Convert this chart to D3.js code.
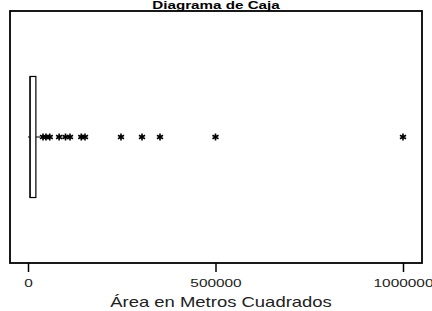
<!DOCTYPE html>
<html>
<head>
<meta charset="utf-8">
<script src="https://cdn.jsdelivr.net/npm/d3@7"></script>
<style>
  body { margin: 0; background: #fff; }
  text { font-family: Arial, "Liberation Sans", sans-serif; }
</style>
</head>
<body>
<svg id="chart" width="432" height="311"></svg>
<script>
// Box summary (m2)
var boxStats = { min: 0, q1: 5000, median: 6000, q3: 21000, max: 32000 };
// Outliers
var outliers = [40000, 48000, 58000, 83000, 100000, 112000, 142000, 152000,
  248000, 304000, 352000, 500000, 1000000];
var tickValues = [0, 500000, 1000000];

var width = 432, height = 311;
var frame = { left: 10, right: 422, top: 11, bottom: 263 };

var svg = d3.select("#chart");

// x scale for area
var x = d3.scaleLinear().domain([0, 1000000]).range([28, 403]);
// single category band
var y = d3.scaleBand().domain(["area"]).range([frame.top, frame.bottom]).padding(0.02);
var cy = y("area") + y.bandwidth() / 2;
var boxH = y.bandwidth() * 0.5;

// title, squeezed into the top strip
svg.append("text")
  .attr("transform", "translate(216,9) scale(1.38,1)")
  .attr("text-anchor", "middle")
  .style("font-size", "11px")
  .style("font-weight", "bold")
  .text("Diagrama de Caja");

// frame
svg.append("rect")
  .attr("x", frame.left)
  .attr("y", frame.top)
  .attr("width", frame.right - frame.left)
  .attr("height", frame.bottom - frame.top)
  .attr("fill", "none")
  .attr("stroke", "#000")
  .attr("stroke-width", 1.8);

// whiskers
svg.append("line")
  .attr("x1", x(boxStats.min)).attr("x2", x(boxStats.q1))
  .attr("y1", cy).attr("y2", cy)
  .attr("stroke", "#000");
svg.append("line")
  .attr("x1", x(boxStats.q3)).attr("x2", x(boxStats.max))
  .attr("y1", cy).attr("y2", cy)
  .attr("stroke", "#000");

// box
svg.append("rect")
  .attr("x", x(boxStats.q1))
  .attr("y", cy - boxH / 2)
  .attr("width", x(boxStats.q3) - x(boxStats.q1))
  .attr("height", boxH)
  .attr("fill", "#fff")
  .attr("stroke", "#000")
  .attr("stroke-width", 1.2);
svg.append("line")
  .attr("x1", x(boxStats.median)).attr("x2", x(boxStats.median))
  .attr("y1", cy - boxH / 2).attr("y2", cy + boxH / 2)
  .attr("stroke", "#000");

// outliers as asterisks
var star = d3.symbol().type(d3.symbolAsterisk).size(34);
svg.selectAll("path.out")
  .data(outliers)
  .enter()
  .append("path")
  .attr("class", "out")
  .attr("d", star)
  .attr("transform", function (d) { return "translate(" + x(d) + "," + cy + ")"; })
  .attr("fill", "none")
  .attr("stroke", "#000")
  .attr("stroke-width", 1.6);

// x axis
var axis = svg.append("g")
  .attr("transform", "translate(0," + frame.bottom + ")")
  .call(d3.axisBottom(x).tickValues(tickValues).tickSize(9).tickFormat(d3.format("d")));
axis.select(".domain").remove();
axis.selectAll(".tick line").attr("stroke", "#000").attr("stroke-width", 1.5);
axis.selectAll(".tick text")
  .attr("y", 0).attr("dy", 0)
  .attr("transform", "translate(0,24) scale(1.4,1)")
  .attr("fill", "#222")
  .style("font-size", "11px");

// axis title
svg.append("text")
  .attr("transform", "translate(221,307) scale(1.32,1)")
  .attr("text-anchor", "middle")
  .attr("fill", "#222")
  .style("font-size", "14px")
  .text("Área en Metros Cuadrados");
</script>
</body>
</html>
